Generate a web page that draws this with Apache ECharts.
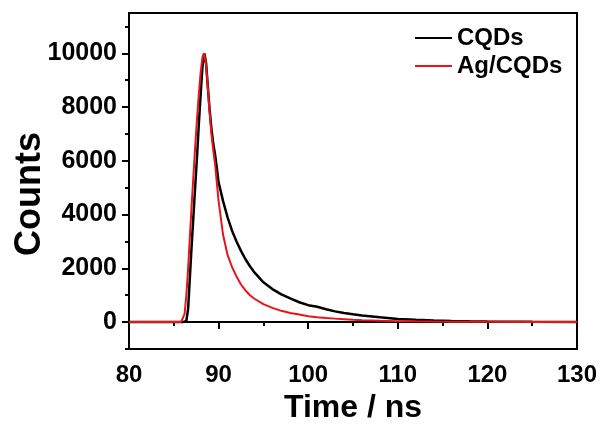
<!DOCTYPE html>
<html>
<head>
<meta charset="utf-8">
<script src="https://cdn.jsdelivr.net/npm/echarts@6/dist/echarts.min.js"></script>
<style>html,body{margin:0;padding:0;background:#fff}#c{width:603px;height:424px}</style>
</head>
<body>
<div id="c"></div>
<script>
// CQDs decay curve
const cqdTime = [80,85,86,86.2,86.4,86.6,86.8,87,87.2,87.4,87.6,87.8,88,88.2,88.4,88.6,88.8,89,89.2,89.4,89.6,89.8,90,90.5,91,91.5,92,92.5,93,93.5,94,95,96,97,98,99,100,101,102,103,104,105,106,108,110,112,114,116,118,120,125,130];
const cqdCounts = [0,0,0,10,40,500,1700,2900,4000,5100,6200,7400,8500,9500,10000,9650,8750,7900,7200,6650,6250,5750,5200,4500,3900,3400,3000,2650,2340,2080,1850,1480,1230,1030,880,740,630,570,480,400,340,290,250,180,115,85,60,40,28,20,10,5];
// Ag/CQDs decay curve
const agTime = [80,85,85.8,86,86.2,86.4,86.6,86.8,87,87.2,87.4,87.6,87.8,88,88.2,88.35,88.6,88.8,89,89.2,89.4,89.6,89.8,90,90.5,91,91.5,92,92.5,93,93.5,94,95,96,97,98,99,100,101,102,103,104,105,106,108,110,112,114,116,118,120,125,130];
const agCounts = [0,0,0,20,300,1000,2000,3200,4400,5500,6600,7600,8500,9300,9850,10000,9600,8700,7800,7000,6400,5900,5200,4500,3250,2500,2050,1700,1400,1180,1000,870,670,530,420,340,280,220,180,150,130,110,85,65,48,36,28,22,18,14,12,8,5];
const seriesNames = ['CQDs','Ag/CQDs'];
const yMajor = [0,2000,4000,6000,8000,10000];
const yMinor = [-1000,1000,3000,5000,7000,9000,11000];

function pairs(xs, ys){ return xs.map((x,i)=>[x, ys[i]]); }

const chart = echarts.init(document.getElementById('c'));
const font = 'Liberation Sans, Arial, sans-serif';
chart.setOption({
  animation: false,
  backgroundColor: '#fff',
  grid: {left:129, right:26, top:13, bottom:75, outerBoundsMode:'none', containLabel:false,
         show:true, borderColor:'#000', borderWidth:2, backgroundColor:'transparent'},
  legend: {
    orient:'vertical', left:410, top:21, itemWidth:37, itemHeight:2, itemGap:4, icon:'rect',
    data: seriesNames,
    textStyle:{fontFamily:font, fontWeight:'bold', fontSize:24, color:'#000'}
  },
  xAxis: {
    type:'value', min:80, max:130, interval:10,
    name:'Time / ns', nameLocation:'middle', nameGap:43, nameMoveOverlap:false,
    nameTextStyle:{fontFamily:font, fontWeight:'bold', fontSize:32, color:'#000'},
    axisLine:{show:true, lineStyle:{color:'#000', width:2}},
    axisTick:{show:true, inside:false, length:7, lineStyle:{color:'#000', width:2}},
    minorTick:{show:true, splitNumber:2, length:4, lineStyle:{color:'#000', width:2}},
    axisLabel:{fontFamily:font, fontWeight:'bold', fontSize:24, color:'#000', margin:14},
    splitLine:{show:false}
  },
  yAxis: [{
    type:'value', min:-1000, max:11500, position:'left',
    name:'Counts', nameLocation:'middle', nameGap:81, nameRotate:90, nameMoveOverlap:false,
    nameTextStyle:{fontFamily:font, fontWeight:'bold', fontSize:36, color:'#000', padding:[0,26,0,0]},
    axisLine:{show:true, lineStyle:{color:'#000', width:2}},
    axisTick:{show:true, inside:false, length:7, customValues:yMajor, lineStyle:{color:'#000', width:2}},
    axisLabel:{fontFamily:font, fontWeight:'bold', fontSize:25, color:'#000', margin:12, customValues:yMajor,
      formatter: v => String(v)},
    splitLine:{show:false}
  },{
    type:'value', min:-1000, max:11500, position:'left', offset:0,
    axisLine:{show:false},
    axisTick:{show:true, inside:false, length:4, customValues:yMinor, lineStyle:{color:'#000', width:2}},
    axisLabel:{show:false},
    splitLine:{show:false}
  }],
  series: [
    {name:seriesNames[0], type:'line', yAxisIndex:0, symbol:'none', data:pairs(cqdTime,cqdCounts),
     lineStyle:{color:'#000', width:2.5}, itemStyle:{color:'#000'}},
    {name:seriesNames[1], type:'line', yAxisIndex:0, symbol:'none', data:pairs(agTime,agCounts),
     lineStyle:{color:'#e8141b', width:2}, itemStyle:{color:'#e8141b'}}
  ]
});
</script>
</body>
</html>
